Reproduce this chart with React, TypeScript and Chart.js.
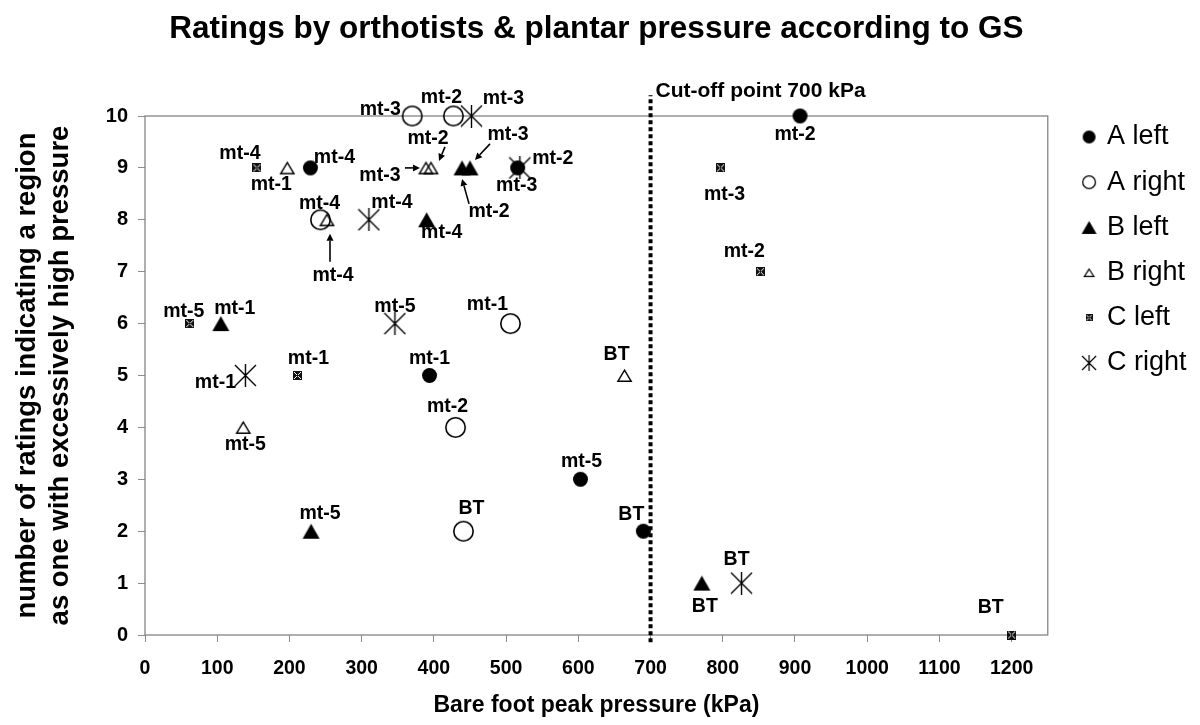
import React, { useEffect, useRef } from 'react';
import { Chart, registerables } from 'chart.js';

Chart.register(...registerables);

const FONT = '"Liberation Sans", Arial, Helvetica, sans-serif';

// ---------- texts ----------
const chartTitle = 'Ratings by orthotists & plantar pressure according to GS';
const xAxisTitle = 'Bare foot peak pressure (kPa)';
const yAxisTitle = ['number of ratings indicating a region', 'as one with excessively high pressure'];
const seriesNames = ['A left', 'A right', 'B left', 'B right', 'C left', 'C right'];

// ---------- axes ----------
const xTickValues = [0, 100, 200, 300, 400, 500, 600, 700, 800, 900, 1000, 1100, 1200];
const yTickValues = [0, 1, 2, 3, 4, 5, 6, 7, 8, 9, 10];
const xRange = [0, 1250];
const yRange = [0, 10];

// ---------- cut-off ----------
const cutoffValue = 700;
const cutoffSpan = [-0.14, 10.4];
const cutoffLabel = 'Cut-off point 700 kPa';

// ---------- series values ----------
const aLeftX = [229, 516, 394, 603, 690, 907];
const aLeftY = [9, 9, 5, 3, 2, 10];
const aLeftLabels = ['mt-4', 'mt-3', 'mt-1', 'mt-5', 'BT', 'mt-2'];

const aRightX = [370, 427, 243, 506, 430, 441];
const aRightY = [10, 10, 8, 6, 4, 2];
const aRightLabels = ['mt-3', 'mt-2', 'mt-4', 'mt-1', 'mt-2', 'BT'];

const bLeftX = [105, 390, 439, 450, 230, 771];
const bLeftY = [6, 8, 9, 9, 2, 1];
const bLeftLabels = ['mt-1', 'mt-4', 'mt-2', 'mt-3', 'mt-5', 'BT'];

const bRightX = [197, 252, 389, 396, 136, 664];
const bRightY = [9, 8, 9, 9, 4, 5];
const bRightLabels = ['mt-1', 'mt-4', 'mt-3', 'mt-2', 'mt-5', 'BT'];

const cLeftX = [155, 62, 211, 797, 852, 1200];
const cLeftY = [9, 6, 5, 9, 7, 0];
const cLeftLabels = ['mt-4', 'mt-5', 'mt-1', 'mt-3', 'mt-2', 'BT'];

const cRightX = [452, 310, 519, 346, 139, 826];
const cRightY = [10, 8, 9, 6, 5, 1];
const cRightLabels = ['mt-3', 'mt-4', 'mt-2', 'mt-5', 'mt-1', 'BT'];

// ---------- label placement (pixel offsets from the point, styling only) ----------
type Place = { dx: number; dy: number; arrow?: [number, number, number, number] };
const aLeftPlace: Place[] = [
  { dx: 24, dy: -10 }, { dx: -1, dy: 18 }, { dx: 0, dy: -17 }, { dx: 1, dy: -18 }, { dx: -12, dy: -17 }, { dx: -5, dy: 19 },
];
const aRightPlace: Place[] = [
  { dx: -32, dy: -6 }, { dx: -12, dy: -18 }, { dx: -1, dy: -16 }, { dx: -23, dy: -19 }, { dx: -8, dy: -21 }, { dx: 8, dy: -23 },
];
const bLeftPlace: Place[] = [
  { dx: 14, dy: -15 },
  { dx: 15, dy: 13 },
  { dx: 27, dy: 44, arrow: [7, 36, 0, 11] },
  { dx: 38, dy: -33, arrow: [20, -24, 5, -8] },
  { dx: 9, dy: -18 },
  { dx: 3, dy: 24 },
];
const bRightPlace: Place[] = [
  { dx: -16, dy: 17 },
  { dx: 6, dy: 56, arrow: [3, 42, 3, 14] },
  { dx: -46, dy: 8, arrow: [-21, 0, -6, 0] },
  { dx: -3, dy: -29, arrow: [14, -21, 8, -7] },
  { dx: 2, dy: 17 },
  { dx: -8, dy: -21 },
];
const cLeftPlace: Place[] = [
  { dx: -17, dy: -14 }, { dx: -6, dy: -12 }, { dx: 11, dy: -17 }, { dx: 4, dy: 27 }, { dx: -16, dy: -20 }, { dx: -21, dy: -27 },
];
const cRightPlace: Place[] = [
  { dx: 32, dy: -17 }, { dx: 23, dy: -17 }, { dx: 33, dy: -9 }, { dx: 0, dy: -17 }, { dx: -30, dy: 7 }, { dx: -5, dy: -23 },
];

// ---------- marker images ----------
function mk(w: number, h: number, draw: (c: CanvasRenderingContext2D) => void) {
  const cv = document.createElement('canvas');
  cv.width = w;
  cv.height = h;
  const c = cv.getContext('2d')!;
  draw(c);
  return cv;
}
function filledCircle(d: number) {
  const s = Math.ceil(d) + 2;
  return mk(s, s, (c) => {
    c.fillStyle = '#000';
    c.beginPath();
    c.arc(s / 2, s / 2, d / 2, 0, Math.PI * 2);
    c.fill();
  });
}
function openCircle(d: number, lw: number) {
  const s = Math.ceil(d) + 2;
  return mk(s, s, (c) => {
    c.strokeStyle = '#000';
    c.lineWidth = lw;
    c.beginPath();
    c.arc(s / 2, s / 2, (d - lw) / 2, 0, Math.PI * 2);
    c.stroke();
  });
}
function triangle(w: number, h: number, filled: boolean, lw: number) {
  const W = Math.ceil(w) + 2;
  const H = Math.ceil(h) + 2;
  return mk(W, H, (c) => {
    const ins = filled ? 0 : lw / 2;
    c.beginPath();
    c.moveTo(W / 2, 1 + ins * 1.6);
    c.lineTo(W - 1 - ins * 1.2, H - 1 - ins);
    c.lineTo(1 + ins * 1.2, H - 1 - ins);
    c.closePath();
    if (filled) {
      c.fillStyle = '#000';
      c.fill();
    } else {
      c.strokeStyle = '#000';
      c.lineWidth = lw;
      c.lineJoin = 'miter';
      c.stroke();
    }
  });
}
function patternSquare(s: number) {
  return mk(s, s, (c) => {
    c.fillStyle = '#111';
    c.fillRect(0, 0, s, s);
    c.fillStyle = '#fff';
    const m = Math.floor(s / 2);
    for (let k = 1; k < s - 1; k++) {
      if (k === m) continue;
      c.fillRect(k, k, 1, 1);
      c.fillRect(s - 1 - k, k, 1, 1);
    }
  });
}
function asterisk(s: number, lw: number) {
  return mk(s + 2, s + 2, (c) => {
    c.strokeStyle = '#000';
    c.lineWidth = lw;
    c.beginPath();
    c.moveTo(1, 1);
    c.lineTo(s + 1, s + 1);
    c.moveTo(s + 1, 1);
    c.lineTo(1, s + 1);
    c.moveTo(s / 2 + 1, 0);
    c.lineTo(s / 2 + 1, s + 2);
    c.stroke();
  });
}

function drawArrow(ctx: CanvasRenderingContext2D, x1: number, y1: number, x2: number, y2: number) {
  const ang = Math.atan2(y2 - y1, x2 - x1);
  const hl = 7;
  const hw = 3.5;
  const bx = x2 - Math.cos(ang) * hl;
  const by = y2 - Math.sin(ang) * hl;
  ctx.beginPath();
  ctx.moveTo(x1, y1);
  ctx.lineTo(bx, by);
  ctx.lineWidth = 1.6;
  ctx.stroke();
  ctx.beginPath();
  ctx.moveTo(x2, y2);
  ctx.lineTo(bx + Math.sin(ang) * hw, by - Math.cos(ang) * hw);
  ctx.lineTo(bx - Math.sin(ang) * hw, by + Math.cos(ang) * hw);
  ctx.closePath();
  ctx.fill();
}

export default function App() {
  const ref = useRef<HTMLCanvasElement>(null);

  useEffect(() => {
    const canvas = ref.current;
    if (!canvas) return;

    const series = [
      { xs: aLeftX, ys: aLeftY, labels: aLeftLabels, place: aLeftPlace, marker: filledCircle(15), legend: filledCircle(13) },
      { xs: aRightX, ys: aRightY, labels: aRightLabels, place: aRightPlace, marker: openCircle(21, 1.6), legend: openCircle(14, 1.3) },
      { xs: bLeftX, ys: bLeftY, labels: bLeftLabels, place: bLeftPlace, marker: triangle(17, 15, true, 0), legend: triangle(15, 13, true, 0) },
      { xs: bRightX, ys: bRightY, labels: bRightLabels, place: bRightPlace, marker: triangle(15, 13, false, 1.4), legend: triangle(11, 9, false, 1.2) },
      { xs: cLeftX, ys: cLeftY, labels: cLeftLabels, place: cLeftPlace, marker: patternSquare(9), legend: patternSquare(7) },
      { xs: cRightX, ys: cRightY, labels: cRightLabels, place: cRightPlace, marker: asterisk(21, 1.4), legend: asterisk(14, 1.2) },
    ];

    const datasets: any[] = series.map((s, i) => ({
      type: 'scatter',
      label: seriesNames[i],
      data: s.xs.map((x, j) => ({ x, y: s.ys[j] })),
      pointStyle: s.marker,
      pointRadius: 9,
      pointHoverRadius: 9,
      borderColor: '#000',
      backgroundColor: '#000',
      showLine: false,
      clip: false,
    }));
    datasets.push({
      type: 'line',
      label: 'cutoff',
      data: cutoffSpan.map((y) => ({ x: cutoffValue, y })),
      borderColor: '#000',
      borderWidth: 4,
      borderDash: [4, 3],
      borderCapStyle: 'butt',
      pointRadius: 0,
      showLine: true,
      fill: false,
      clip: false,
    });

    const framePlugin = {
      id: 'frame',
      beforeDatasetsDraw(chart: any) {
        const { ctx, chartArea: a } = chart;
        ctx.save();
        ctx.strokeStyle = '#858585';
        ctx.lineWidth = 1.3;
        ctx.strokeRect(a.left, a.top, a.right - a.left, a.bottom - a.top);
        ctx.restore();
      },
    };

    const labelPlugin = {
      id: 'pointLabels',
      afterDatasetsDraw(chart: any) {
        const ctx = chart.ctx as CanvasRenderingContext2D;
        ctx.save();
        ctx.fillStyle = '#000';
        ctx.strokeStyle = '#000';
        ctx.font = `bold 19.5px ${FONT}`;
        ctx.textAlign = 'center';
        ctx.textBaseline = 'middle';
        series.forEach((s, di) => {
          const meta = chart.getDatasetMeta(di);
          meta.data.forEach((el: any, j: number) => {
            const p = s.place[j];
            ctx.fillText(s.labels[j], el.x + p.dx, el.y + p.dy);
            if (p.arrow) {
              drawArrow(ctx, el.x + p.arrow[0], el.y + p.arrow[1], el.x + p.arrow[2], el.y + p.arrow[3]);
            }
          });
        });
        const xs = chart.scales.x;
        const ys = chart.scales.y;
        ctx.textAlign = 'left';
        ctx.font = `bold 21px ${FONT}`;
        ctx.fillText(cutoffLabel, xs.getPixelForValue(cutoffValue) + 5, ys.getPixelForValue(cutoffSpan[1]) - 4);
        ctx.restore();
      },
    };

    const legendPlace = {
      id: 'legendPlace',
      afterLayout(chart: any) {
        const lg = chart.legend;
        if (!lg) return;
        const a = chart.chartArea;
        const w = lg.right - lg.left;
        const h = lg.bottom - lg.top;
        lg.left = a.right + 18.6;
        lg.right = lg.left + w;
        lg.top = a.top - 10.7;
        lg.bottom = lg.top + h;
      },
    };

    const tickFont = { family: FONT, size: 19.5, weight: 'bold' as const };

    const chart = new Chart(canvas, {
      type: 'scatter',
      data: { datasets },
      plugins: [framePlugin, labelPlugin, legendPlace],
      options: {
        responsive: false,
        maintainAspectRatio: false,
        animation: false,
        devicePixelRatio: 1,
        layout: { padding: { left: 0, right: 22, top: 0, bottom: 0 } },
        plugins: {
          title: {
            display: true,
            text: chartTitle,
            fullSize: false,
            color: '#000',
            font: { family: FONT, size: 31.5, weight: 'bold', lineHeight: 1.2 },
            padding: { top: 10, bottom: 68.2 },
          },
          legend: {
            display: true,
            position: 'right',
            align: 'start',
            fullSize: false,
            labels: {
              usePointStyle: true,
              boxWidth: 9,
              boxHeight: 9,
              padding: 18.2,
              color: '#000',
              font: { family: FONT, size: 27, weight: 'normal' },
              generateLabels: (ch: any) => {
                const items = Chart.defaults.plugins.legend.labels.generateLabels(ch);
                return items
                  .filter((it: any) => it.datasetIndex < series.length)
                  .map((it: any) => ({ ...it, pointStyle: series[it.datasetIndex].legend, fontColor: '#000' }));
              },
            },
          },
          tooltip: { enabled: false },
        },
        scales: {
          x: {
            type: 'linear',
            position: 'bottom',
            min: xRange[0],
            max: xRange[1],
            afterBuildTicks: (scale: any) => {
              scale.ticks = xTickValues.map((v) => ({ value: v }));
            },
            afterFit: (scale: any) => {
              scale.height = 90;
            },
            border: { display: false },
            grid: { display: true, drawOnChartArea: false, drawTicks: true, tickLength: 7, color: '#8c8c8c', lineWidth: 1 },
            ticks: {
              color: '#000',
              font: tickFont,
              padding: 15,
              maxRotation: 0,
              autoSkip: false,
              callback: (v: any) => String(v),
            },
            title: {
              display: true,
              text: xAxisTitle,
              color: '#000',
              font: { family: FONT, size: 23, weight: 'bold', lineHeight: 1.2 },
              padding: { top: 0, bottom: 6 },
            },
          },
          y: {
            type: 'linear',
            position: 'left',
            min: yRange[0],
            max: yRange[1],
            afterBuildTicks: (scale: any) => {
              scale.ticks = yTickValues.map((v) => ({ value: v }));
            },
            afterFit: (scale: any) => {
              scale.width = 145;
            },
            border: { display: false },
            grid: { display: true, drawOnChartArea: false, drawTicks: true, tickLength: 7, color: '#8c8c8c', lineWidth: 1 },
            ticks: {
              color: '#000',
              font: { family: FONT, size: 20, weight: 'bold' },
              padding: 10,
              autoSkip: false,
              callback: (v: any) => String(v),
            },
            title: {
              display: true,
              text: yAxisTitle,
              color: '#000',
              font: { family: FONT, size: 27.5, weight: 'bold', lineHeight: 33 / 27.5 },
              padding: { top: 11, bottom: 0 },
            },
          },
        },
      } as any,
    });

    return () => chart.destroy();
  }, []);

  return (
    <div style={{ position: 'absolute', left: 0, top: 0, width: 1200, height: 725, background: '#fff' }}>
      <canvas ref={ref} width={1200} height={725} style={{ display: 'block', width: 1200, height: 725 }} />
    </div>
  );
}
